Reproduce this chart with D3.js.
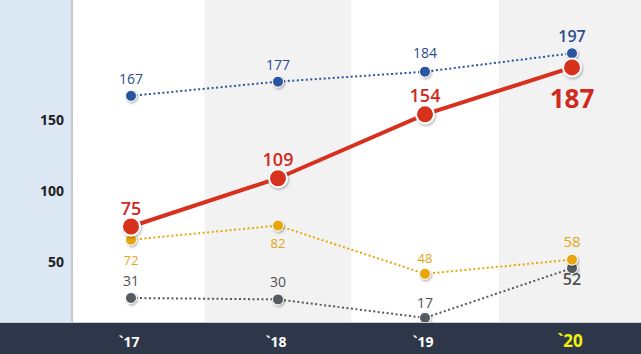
<!DOCTYPE html>
<html>
<head>
<meta charset="utf-8">
<script src="https://cdn.jsdelivr.net/npm/d3@7"></script>
<style>
  html, body { margin: 0; padding: 0; background: #fff; }
  svg { display: block; }
</style>
</head>
<body>
<div class="chart"></div>
<script>
// data
let years = ["`17", "`18", "`19", "`20"];
let redValues = [75, 109, 154, 187];
let blueValues = [167, 177, 184, 197];
let yellowValues = [72, 82, 48, 58];
let grayValues = [31, 30, 17, 52];
let yTicks = [50, 100, 150];

let config = {
  width: 641,
  height: 354,
  panelWidth: 72,
  barTop: 322,
  font: '"Open Sans", "Noto Sans", sans-serif'
};

let svg = d3.select("div.chart").append("svg")
  .attr("width", config.width)
  .attr("height", config.height);

let defs = svg.append("defs");
let shadow = defs.append("filter").attr("id", "shadow")
  .attr("x", "-50%").attr("y", "-50%").attr("width", "200%").attr("height", "200%");
shadow.append("feDropShadow")
  .attr("dx", 1).attr("dy", 1.5).attr("stdDeviation", 1.2)
  .attr("flood-color", "#000").attr("flood-opacity", 0.3);

let x = d3.scalePoint()
  .domain(years)
  .range([131, 572]);

// main scale (axis, red, blue); the lower two series sit on a slightly shifted scale
let y = d3.scaleLinear()
  .domain([0, 200])
  .range([333, 49]);
let yLow = d3.scaleLinear()
  .domain([0, 200])
  .range([342, 58]);

// background bands
let step = x.step();
let bandEdges = years.map((d, i) => {
  let left = i === 0 ? config.panelWidth : x(d) - step / 2;
  let right = i === years.length - 1 ? config.width : x(d) + step / 2;
  return { year: d, left: left, right: right, i: i };
});

svg.append("g").selectAll("rect")
  .data(bandEdges)
  .enter().append("rect")
  .attr("x", d => d.left)
  .attr("y", 0)
  .attr("width", d => d.right - d.left)
  .attr("height", config.barTop)
  .attr("fill", d => d.i % 2 === 0 ? "#ffffff" : "#f2f2f2");

// left axis panel
svg.append("rect")
  .attr("x", 0).attr("y", 0)
  .attr("width", config.panelWidth).attr("height", config.barTop)
  .attr("fill", "#dde8f5");
svg.append("line")
  .attr("x1", config.panelWidth).attr("x2", config.panelWidth)
  .attr("y1", 0).attr("y2", config.barTop)
  .attr("stroke", "#c3c9d2").attr("stroke-width", 2);

let yAxis = svg.append("g")
  .attr("transform", "translate(64,0)")
  .call(d3.axisLeft(y).tickValues(yTicks).tickSize(0).tickPadding(0));
yAxis.select(".domain").remove();
yAxis.selectAll("text")
  .attr("font-family", config.font)
  .attr("font-size", "14px")
  .attr("font-weight", "bold")
  .attr("fill", "#222");

let series = [
  { values: grayValues, scale: yLow, color: "#555a60", width: 2, dash: "2,2.5", r: 5.5 },
  { values: yellowValues, scale: yLow, color: "#e8a60a", width: 2, dash: "2,2.5", r: 5.5 },
  { values: blueValues, scale: y, color: "#2c55a0", width: 2, dash: "2,2.5", r: 5.5 },
  { values: redValues, scale: y, color: "#d7301f", width: 4, dash: null, r: 9 }
];

let plot = svg.append("g");

series.forEach(s => {
  let line = d3.line()
    .x((d, i) => x(years[i]))
    .y(d => s.scale(d));
  plot.append("path")
    .datum(s.values)
    .attr("d", line)
    .attr("fill", "none")
    .attr("stroke", s.color)
    .attr("stroke-width", s.width)
    .attr("stroke-dasharray", s.dash);
  plot.append("g").selectAll("circle")
    .data(s.values)
    .enter().append("circle")
    .attr("cx", (d, i) => x(years[i]))
    .attr("cy", d => s.scale(d))
    .attr("r", s.r)
    .attr("fill", s.color)
    .attr("stroke", "#fff")
    .attr("stroke-width", s.width > 2 ? 2 : 1)
    .attr("filter", "url(#shadow)");
});

// value labels: [offset, size, weight]
let labelStyle = {
  red: [[-12, 18, "600"], [-12, 18, "600"], [-12, 18, "600"], [41, 26, "bold"]],
  blue: [[-12, 14, "normal"], [-12, 14, "normal"], [-14, 14, "normal"], [-11, 16, "600"]],
  yellow: [[25, 13, "normal"], [22, 13, "normal"], [-11, 13, "normal"], [-13, 15, "normal"]],
  gray: [[-12, 14, "normal"], [-12, 14, "normal"], [-10, 14, "normal"], [17, 16, "600"]]
};
let labelSeries = [
  { values: redValues, scale: y, style: labelStyle.red, color: "#d02a1e" },
  { values: blueValues, scale: y, style: labelStyle.blue, color: "#2c4d8c" },
  { values: yellowValues, scale: yLow, style: labelStyle.yellow, color: "#e3a418" },
  { values: grayValues, scale: yLow, style: labelStyle.gray, color: "#505050" }
];

labelSeries.forEach(s => {
  plot.append("g").selectAll("text")
    .data(s.values)
    .enter().append("text")
    .text(d => d)
    .attr("x", (d, i) => x(years[i]))
    .attr("y", (d, i) => s.scale(d) + s.style[i][0])
    .attr("font-family", config.font)
    .attr("font-size", (d, i) => s.style[i][1] + "px")
    .attr("font-weight", (d, i) => s.style[i][2])
    .attr("text-anchor", "middle")
    .attr("fill", s.color);
});

// bottom bar
svg.append("rect")
  .attr("x", 0).attr("y", config.barTop)
  .attr("width", config.width).attr("height", config.height - config.barTop)
  .attr("fill", "#2e3749");
svg.append("line")
  .attr("x1", 0).attr("x2", config.width)
  .attr("y1", config.barTop + 0.5).attr("y2", config.barTop + 0.5)
  .attr("stroke", "#c9ccd2").attr("stroke-width", 1);

svg.append("g").selectAll("text")
  .data(years)
  .enter().append("text")
  .text(d => d)
  .attr("x", d => x(d) - 2)
  .attr("y", 347)
  .attr("font-family", config.font)
  .attr("font-size", (d, i) => i === years.length - 1 ? "17px" : "14px")
  .attr("font-weight", "bold")
  .attr("text-anchor", "middle")
  .attr("fill", (d, i) => i === years.length - 1 ? "#f2f20a" : "#ffffff");
</script>
</body>
</html>
